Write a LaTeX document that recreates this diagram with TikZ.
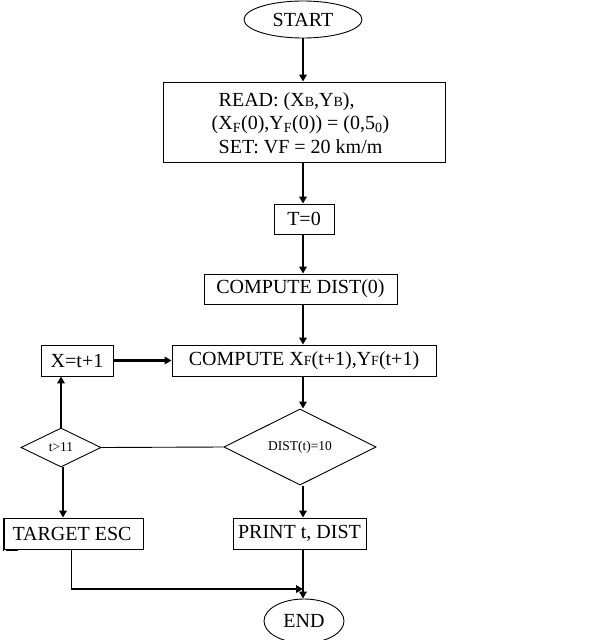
\documentclass[tikz,border=0pt]{standalone}
\usepackage{fontspec}
\setmainfont{Liberation Serif}
\usetikzlibrary{shapes.geometric,arrows.meta}

\newcommand{\smallletter}[1]{{\fontsize{14}{14}\selectfont #1}}

\begin{document}
\begin{tikzpicture}[x=1pt,y=-1pt,
  txt/.style={font=\fontsize{20}{23.5}\selectfont},
  box/.style={txt, draw, line width=0.9pt, rectangle, inner sep=0pt},
  oval/.style={txt, draw, line width=0.9pt, ellipse, inner sep=0pt},
  choice/.style={draw, line width=0.9pt, diamond, inner sep=0pt,
    font=\fontsize{13.5}{13.5}\selectfont},
  flow/.style={line width=1.8pt, -{Triangle[length=7pt,width=7.5pt]}},
  plain/.style={line width=0.9pt},
  heavy/.style={line width=1.8pt}]
\useasboundingbox (0,0) rectangle (614,640);

% terminals
\node[oval, minimum width=118, minimum height=37] (start) at (303,19.5) {START};
\node[oval, minimum width=80, minimum height=44] (end) at (304,621) {END};

% process boxes
\node[box, minimum width=282, minimum height=80] (read) at (304,122) {};
\node[txt, inner sep=0pt, align=left] (readtxt) at (300.5,123)
  {\hspace*{7pt}READ: (X\smallletter{B},Y\smallletter{B}),\\
   (X\textsubscript{F}(0),Y\textsubscript{F}(0)) = (0,5\textsubscript{0})\\
   \hspace*{7pt}SET: VF = 20 km/m};
\node[box, minimum width=60, minimum height=30] (t0) at (304,219) {T=0};
\node[box, minimum width=193, minimum height=30] (cd0) at (300.5,289) {COMPUTE DIST(0)};
\node[box, minimum width=264, minimum height=31] (cxf) at (304,360.5)
  {COMPUTE X\smallletter{F}(t+1),Y\smallletter{F}(t+1)};
\node[box, minimum width=72, minimum height=31] (xinc) at (77,360.5) {X=t+1};
\node[box, minimum width=139, minimum height=31] (tesc) at (73.5,533.5) {TARGET ESC\hspace*{3pt}};
\node[box, minimum width=133, minimum height=31] (print) at (299.5,533.5) {PRINT t, DIST};

% decisions
\node[choice, minimum width=80, minimum height=39] (tcheck) at (61,447.5) {t>11};
\node[choice, minimum width=152, minimum height=40] (dcheck) at (300,447) {DIST(t)=10};

% heavier left edge of the escape box
\draw[heavy] (tesc.north west) -- ([yshift=-2pt]tesc.south west);
\draw[plain] ([xshift=2pt,yshift=-1pt]tesc.south west) -- ([xshift=14pt,yshift=-1pt]tesc.south west);

% main flow
\coordinate (spine) at (303,0);
\draw[flow] (start.south) -- (start.south |- read.north);
\draw[flow] (read.south -| spine) -- (t0.north -| spine);
\draw[flow] (t0.south -| spine) -- (cd0.north -| spine);
\draw[flow] (cd0.south -| spine) -- (cxf.north -| spine);
\draw[flow] (cxf.south -| spine) -- (dcheck.north -| spine);
\draw[flow] (dcheck.south -| spine) -- (print.north -| spine);
\draw[flow] (print.south -| spine) -- (end.north -| spine);

% loop back
\draw[plain] (tcheck.east) -- (dcheck.west);
\draw[flow] (tcheck.north) -- (tcheck.north |- xinc.south);
\draw[flow, line width=2.4pt] (xinc.east) -- (cxf.west);
\draw[flow] ([xshift=2pt]tcheck.south) -- ([xshift=2pt]tcheck.south |- tesc.north);

% escape branch to end
\coordinate (join) at (71,589);
\draw[plain] (tesc.south -| join) -- (join);
\draw[flow, line width=2.2pt] (join) -- (join -| spine);
\end{tikzpicture}
\end{document}
